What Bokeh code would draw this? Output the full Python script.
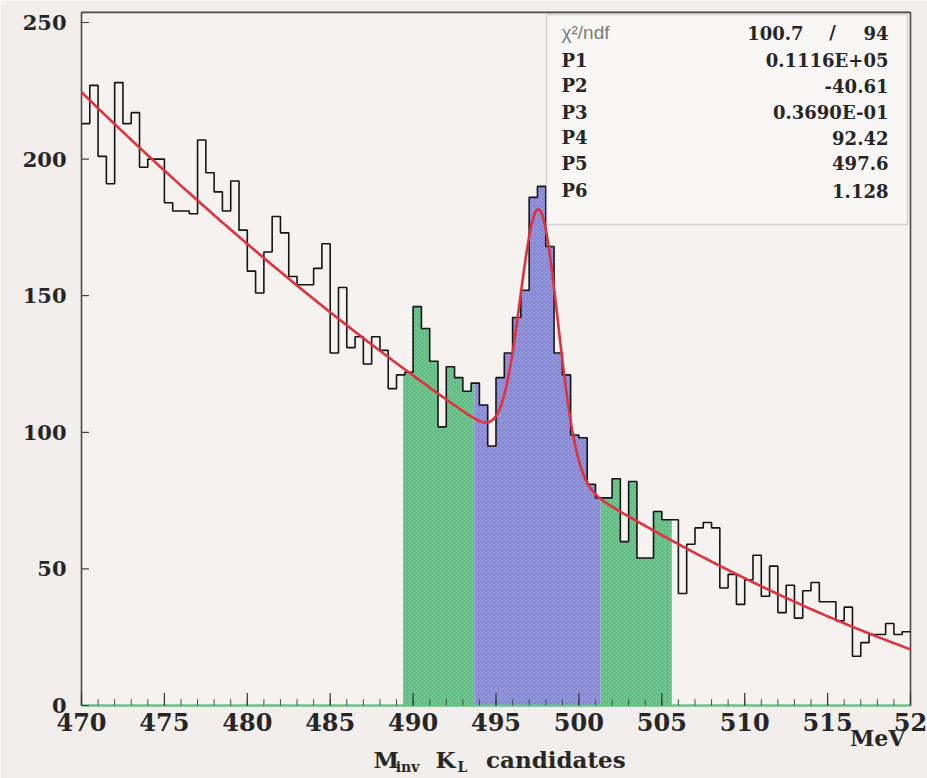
from bokeh.plotting import figure
from bokeh.models import Range1d, Label, BoxAnnotation
from bokeh.core.properties import value
from bokeh.embed import file_html
from bokeh.resources import INLINE
import numpy as np

# ---------------- data ----------------
x_start = 470.0
bin_width = 0.5
counts = [213, 227, 201, 191, 228, 213, 217, 197, 200, 200,
          184, 181, 181, 180, 207, 195, 188, 181, 192, 174,
          159, 151, 166, 179, 173, 157, 154, 154, 160, 169,
          129, 153, 131, 135, 125, 135, 130, 116, 121, 122,
          146, 138, 126, 102, 124, 120, 115, 118, 110, 95,
          120, 129, 142, 152, 186, 190, 168, 129, 121, 99,
          98, 81, 76, 76, 83, 60, 82, 54, 54, 71,
          68, 68, 41, 59, 65, 67, 65, 43, 48, 37,
          46, 55, 40, 51, 34, 44, 32, 42, 45, 38,
          38, 31, 36, 18, 23, 26, 26, 30, 26, 27]

# fit parameters shown in the stats box
chi2_ndf = ("100.7", "94")
par_names = ["P1", "P2", "P3", "P4", "P5", "P6"]
par_text = ["0.1116E+05", "-40.61", "0.3690E-01", "92.42", "497.6", "1.128"]
P1, P2, P3, P4, P5, P6 = 11160.0, -40.61, 0.03690, 92.42, 497.6, 1.128

# selection windows (MeV)
green_lo = [489.4, 501.3]
green_hi = [493.7, 505.6]
blue_lo = [493.7]
blue_hi = [501.3]

x_ticks = [470, 475, 480, 485, 490, 495, 500, 505, 510, 515, 520]
x_tick_labels = ["470", "475", "480", "485", "490", "495", "500", "505", "510", "515", "52"]
x_minor = [470 + i for i in range(51)]
y_ticks = [0, 50, 100, 150, 200, 250]
y_tick_labels = ["0", "50", "100", "150", "200", "250"]

x_lo, x_hi = 470.0, 520.0
y_top = 253.7

# ---------------- figure ----------------
FONT = "DejaVu Serif"
INK = "#262626"
BG_OUT = "#f2eeec"
BG_IN = "#f6f2f0"

p = figure(width=927, height=778, output_backend="svg", toolbar_location=None,
           x_range=Range1d(465.115, 521.025), y_range=Range1d(-26.72, 258.05))
p.min_border = 0
p.xaxis.visible = False
p.yaxis.visible = False
p.grid.visible = False
p.outline_line_color = None
p.background_fill_color = BG_OUT
p.border_fill_color = BG_OUT

# plot area with its frame
p.quad(left=[x_lo], right=[x_hi], bottom=[0], top=[y_top],
       fill_color=BG_IN, line_color="#4a4a4a", line_width=1.6)

edges = [x_start + bin_width * i for i in range(len(counts) + 1)]

def region_patches(los, his):
    xs, ys = [], []
    for a, b in zip(los, his):
        px, py = [a], [0]
        for i, c in enumerate(counts):
            lo, hi = edges[i], edges[i + 1]
            if hi > a and lo < b:
                px += [max(lo, a), min(hi, b)]
                py += [c, c]
        px.append(b); py.append(0)
        xs.append(px); ys.append(py)
    return xs, ys

gx, gy = region_patches(green_lo, green_hi)
p.patches(gx, gy, fill_color="#74c792", line_color=None,
          hatch_pattern="diagonal_cross", hatch_color="#45a46a", hatch_scale=4,
          hatch_weight=1, hatch_alpha=0.5)
bx, by = region_patches(blue_lo, blue_hi)
p.patches(bx, by, fill_color="#9798dc", line_color=None,
          hatch_pattern="diagonal_cross", hatch_color="#6a6bbd", hatch_scale=4,
          hatch_weight=1, hatch_alpha=0.5)

# histogram outline
p.step(x=edges, y=counts + [counts[-1]], mode="after", line_color="#151515", line_width=1.6)

# fit curve from the stats-box parameters
xf = np.linspace(470, 520, 501)
yf = P1 + P2 * xf + P3 * xf ** 2 + P4 * np.exp(-0.5 * ((xf - P5) / P6) ** 2)
p.line(xf, yf, line_color="#e2303c", line_width=2.6)

# x axis: green base line, inward ticks, labels
p.segment(x0=[x_lo], y0=[0], x1=[x_hi], y1=[0], line_color="#52d07c", line_width=2.2)
p.segment(x0=x_minor, y0=[0] * len(x_minor), x1=x_minor, y1=[2.3] * len(x_minor),
          line_color="#4a4a4a", line_width=1)
p.segment(x0=x_ticks, y0=[0] * len(x_ticks), x1=x_ticks, y1=[4.6] * len(x_ticks),
          line_color="#333333", line_width=1.2)
p.text(x=x_ticks, y=[-6.0] * len(x_ticks), text=x_tick_labels,
       text_font=value(FONT), text_font_style="bold", text_font_size="24px",
       text_color=INK, text_align="center", text_baseline="middle")

# y axis: inward ticks and labels
p.segment(x0=[x_lo] * len(y_ticks), y0=y_ticks, x1=[x_lo + 0.45] * len(y_ticks), y1=y_ticks,
          line_color="#444444", line_width=1.2)
p.text(x=[469.1] * len(y_ticks), y=y_ticks, text=y_tick_labels,
       text_font=value(FONT), text_font_style="bold", text_font_size="21px",
       text_color=INK, text_align="right", text_baseline="middle")

# stats box
p.add_layout(BoxAnnotation(left=498.05, right=519.82, top=252.9, bottom=176.1,
                           fill_color="#f9f7f6", fill_alpha=1.0,
                           line_color="#85808f", line_width=1.5))
row_y = [246.3, 236.1, 226.9, 217.0, 207.9, 198.4, 188.5]
p.add_layout(Label(x=498.95, y=row_y[0], text="χ²/ndf", text_font="Liberation Sans",
                   text_font_size="19px", text_color="#7a7a7a", text_baseline="middle"))
p.add_layout(Label(x=513.55, y=row_y[0], text=chi2_ndf[0], text_font=FONT, text_font_style="bold",
                   text_font_size="18px", text_color=INK, text_baseline="middle", text_align="right"))
p.add_layout(Label(x=515.3, y=row_y[0], text="/", text_font=FONT, text_font_style="bold",
                   text_font_size="18px", text_color=INK, text_baseline="middle", text_align="center"))
p.add_layout(Label(x=518.67, y=row_y[0], text=chi2_ndf[1], text_font=FONT, text_font_style="bold",
                   text_font_size="18px", text_color=INK, text_baseline="middle", text_align="right"))
for name, val, yy in zip(par_names, par_text, row_y[1:]):
    p.add_layout(Label(x=498.95, y=yy, text=name, text_font=FONT, text_font_style="bold",
                       text_font_size="18px", text_color=INK, text_baseline="middle"))
    p.add_layout(Label(x=518.67, y=yy, text=val, text_font=FONT, text_font_style="bold",
                       text_font_size="18px", text_color=INK, text_baseline="middle",
                       text_align="right"))

# axis title pieces: M_inv  K_L candidates, and the unit
def lab(x, y, t, size):
    p.add_layout(Label(x=x, y=y, text=t, text_font=FONT, text_font_style="bold",
                       text_font_size=size, text_color=INK, text_baseline="middle"))

lab(487.61, -19.8, "M", "23px")
lab(488.95, -22.6, "inv", "14px")
lab(491.35, -19.8, "K", "23px")
lab(492.68, -22.6, "L", "14px")
lab(494.40, -19.8, "candidates", "23px")
lab(516.35, -11.8, "MeV", "22px")

open("out.html", "w").write(file_html(p, INLINE))
